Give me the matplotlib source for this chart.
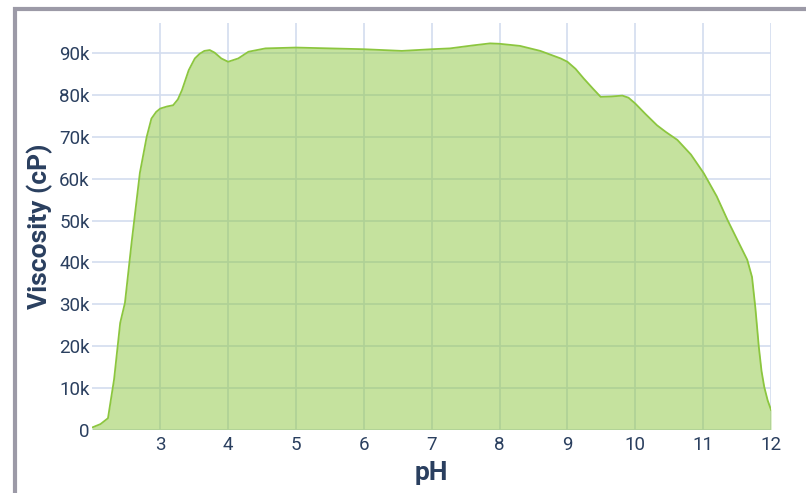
import matplotlib.pyplot as plt
from matplotlib.patches import Rectangle
from matplotlib.ticker import FuncFormatter

plt.rcParams['font.family'] = ['Roboto', 'DejaVu Sans']

# pH vs viscosity
ph = [2.0, 2.12, 2.23, 2.32, 2.41, 2.48, 2.58, 2.70, 2.80, 2.87, 2.94, 3.0, 3.1, 3.19,
      3.26, 3.32, 3.42, 3.51, 3.58, 3.65, 3.73, 3.80, 3.90, 4.0, 4.15, 4.30, 4.55, 5.0,
      5.5, 6.0, 6.56, 7.0, 7.27, 7.6, 7.86, 8.0, 8.3, 8.6, 8.9, 9.0, 9.12, 9.24, 9.38,
      9.49, 9.65, 9.81, 9.9, 10.0, 10.15, 10.32, 10.45, 10.62, 10.82, 11.01,
      11.2, 11.36, 11.5, 11.65, 11.72, 11.77, 11.82, 11.86, 11.90, 11.95, 12.0]
visc = [0.5, 1.3, 2.7, 12, 25.5, 30.3, 45, 61.4, 70, 74.4, 76.0, 76.8, 77.3, 77.6,
        79.0, 81.2, 86.0, 88.8, 89.9, 90.6, 90.8, 90.2, 88.8, 88.0, 88.8, 90.4, 91.2, 91.4,
        91.2, 91.0, 90.6, 91.0, 91.2, 91.9, 92.4, 92.3, 91.8, 90.6, 88.8, 88.0, 86.3, 84.0, 81.5,
        79.6, 79.7, 79.9, 79.4, 78.0, 75.5, 72.8, 71.2, 69.3, 65.8, 61.3,
        55.8, 50.1, 45.5, 40.6, 36.5, 29.0, 19.8, 14.0, 10.2, 7.0, 4.7]
visc = [v * 1000 for v in visc]
x_ticks = [3, 4, 5, 6, 7, 8, 9, 10, 11, 12]
y_ticks = [0, 10000, 20000, 30000, 40000, 50000, 60000, 70000, 80000, 90000]

text_col = '#2a3f5f'
grid_col = '#d3ddef'

fig = plt.figure(figsize=(8.06, 4.93), dpi=100)
ax = fig.add_axes([0.1146, 0.1288, 0.842, 0.8239])

ax.fill_between(ph, visc, 0, color=(140/255, 198/255, 63/255), alpha=0.5,
                linewidth=0, zorder=2)
ax.plot(ph, visc, color='#8cc63f', linewidth=1.3, zorder=3)

ax.set_xlim(2, 12)
ax.set_ylim(0, 97200)
ax.set_xticks(x_ticks)
ax.set_yticks(y_ticks)
ax.yaxis.set_major_formatter(FuncFormatter(lambda v, p: '0' if v == 0 else f'{int(v/1000)}k'))
ax.grid(True, color=grid_col, linewidth=1.2, zorder=1)
ax.set_axisbelow(True)
for s in ax.spines.values():
    s.set_visible(False)
ax.tick_params(axis='both', length=0, labelsize=13.5, labelcolor=text_col)
ax.tick_params(axis='y', pad=2)
ax.tick_params(axis='x', pad=5)

ax.set_xlabel('pH', fontsize=19, fontweight='bold', color=text_col)
ax.set_ylabel('Viscosity (cP)', fontsize=19, fontweight='bold', color=text_col)
ax.xaxis.set_label_coords(0.5, -0.107)
ax.xaxis.label.set_va('center')
ax.yaxis.set_label_coords(-0.077, 0.5)
ax.yaxis.label.set_va('center')

# grey frame around the figure (cut off on the right and bottom)
fig.patches.append(Rectangle((14.5 / 806, -0.005), 1.2, (493 - 8.5) / 493 + 0.005,
                             transform=fig.transFigure, fill=False,
                             edgecolor='#9c9aa7', linewidth=3.0))

fig.savefig('out.png', dpi=100)
